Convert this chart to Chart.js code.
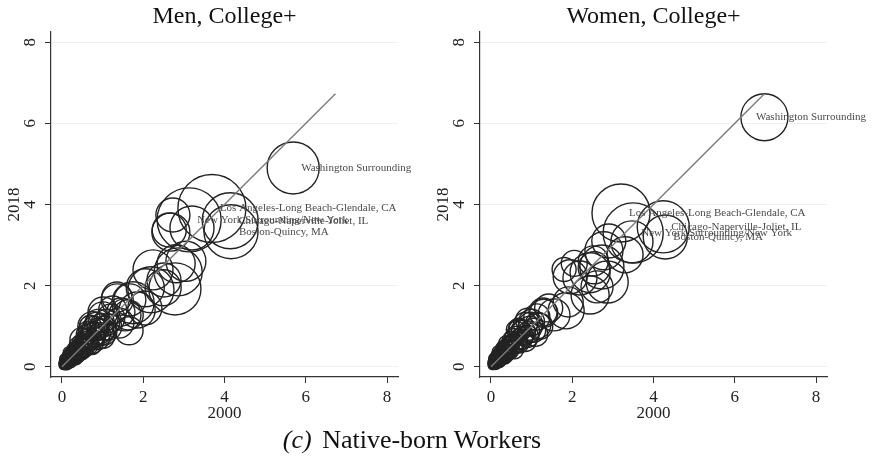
<!DOCTYPE html>
<html>
<head>
<meta charset="utf-8">
<script src="https://cdn.jsdelivr.net/npm/chart.js@4.4.1/dist/chart.umd.min.js"></script>
<style>
  body { margin: 0; width: 873px; height: 461px; background: #fff; position: relative; overflow: hidden; font-family: "Liberation Serif", serif; }
  #men { position: absolute; left: 4px; top: 0; }
  #women { position: absolute; left: 433px; top: 0; }
  #caption { position: absolute; left: 0; top: 426px; width: 824px; text-align: center; font-size: 26px; line-height: 28px; color: #111; }
  #caption i { margin-right: 4px; }
</style>
</head>
<body>
<canvas id="men" width="440" height="430"></canvas>
<canvas id="women" width="440" height="430"></canvas>
<div id="caption"><i>(c)</i> Native-born Workers</div>
<script>
// metro areas that get a text label (first five points of each panel)
const metroNames = ['Los Angeles-Long Beach-Glendale, CA', 'New York Surrounding/New York',
  'Chicago-Naperville-Joliet, IL', 'Boston-Quincy, MA', 'Washington Surrounding'];

const axisTicks = [0, 2, 4, 6, 8];

// men, college+ : share in 2000 (x), share in 2018 (y), employment weight (w)
const menX = [3.69, 3.13, 4.14, 4.16, 5.69,
  2.64, 2.68, 3.20, 2.73, 2.24, 2.86, 2.51, 2.49, 2.78, 2.19, 2.81, 3.05, 2.04, 1.75, 1.67,
  1.36, 1.35, 1.63, 1.55, 1.65, 1.40, 1.01, 1.01, 1.85, 2.05, 1.20, 0.76, 1.03, 0.49,
  1.10, 0.95, 0.80, 0.70, 0.90, 0.60, 0.85, 1.05, 0.75, 0.65, 0.55, 0.50, 0.45, 1.00, 0.70,
  0.78, 0.88, 0.60, 0.65, 0.55,
  0.40, 0.35, 0.30, 0.25, 0.20, 0.15, 0.10, 0.08, 0.05, 0.12, 0.18, 0.22, 0.28, 0.32, 0.38,
  0.42, 0.48, 0.06, 0.10, 0.14, 0.16, 0.24, 0.30, 0.20, 0.04, 0.08, 0.03, 0.12, 0.35, 0.26,
  0.44, 0.36, 0.18, 0.07, 0.02, 0.05, 0.15, 0.22, 0.28, 0.40,
  0.58, 0.62, 0.68, 0.72, 0.82, 0.92, 0.52, 0.46, 0.38, 0.33, 0.27, 0.50, 0.57, 0.43, 0.31,
  0.19, 0.09, 0.13, 0.62, 0.75, 0.98, 1.15, 0.88, 1.25, 1.45];
const menY = [3.90, 3.62, 3.60, 3.33, 4.90,
  3.37, 3.32, 3.42, 3.74, 2.39, 2.34, 2.14, 1.95, 1.92, 1.90, 2.54, 2.60, 1.45, 1.58, 1.65,
  1.65, 1.72, 1.28, 1.28, 0.89, 1.08, 1.23, 1.35, 1.40, 1.95, 1.20, 0.99, 0.86, 0.67,
  1.10, 0.85, 0.95, 0.75, 0.70, 0.80, 1.05, 0.95, 0.60, 0.55, 0.65, 0.50, 0.60, 0.75, 1.00,
  0.80, 0.92, 0.60, 0.70, 0.45,
  0.40, 0.45, 0.30, 0.35, 0.25, 0.20, 0.15, 0.10, 0.06, 0.08, 0.12, 0.18, 0.22, 0.26, 0.30,
  0.35, 0.40, 0.12, 0.05, 0.16, 0.10, 0.28, 0.38, 0.30, 0.03, 0.04, 0.07, 0.22, 0.20, 0.14,
  0.52, 0.55, 0.35, 0.20, 0.02, 0.15, 0.05, 0.10, 0.45, 0.25,
  0.70, 0.52, 0.62, 0.88, 0.72, 0.82, 0.58, 0.44, 0.48, 0.36, 0.30, 0.35, 0.62, 0.28, 0.18,
  0.22, 0.09, 0.12, 0.90, 0.50, 1.02, 0.98, 1.12, 1.40, 1.35];
const menW = [72.3, 64, 49, 45.6, 42.3,
  18.1, 22.6, 30.3, 18.1, 25, 36, 18.1, 20.3, 42.3, 33.1, 22.6, 25, 18.1, 27.6, 16,
  16, 14.1, 14.1, 16, 12.3, 14.1, 14.1, 14.1, 20.3, 22.6, 12.3, 14.1, 10.6, 9,
  10.6, 10.6, 9, 10.6, 7.6, 6.3, 9, 9, 7.6, 6.3, 5.1, 6.3, 4, 9, 7.6,
  9, 7.6, 7.6, 6.3, 5.1,
  5.1, 4, 5.1, 3.1, 4, 3.1, 2.3, 2.3, 1.6, 2.3, 2.3, 3.1, 3.1, 4, 4,
  4, 5.1, 1.6, 1.6, 2.3, 1.6, 2.3, 3.1, 2.3, 1, 1, 1, 1.6, 2.3, 1.6,
  4, 3.1, 2.3, 1.6, 0.6, 1, 1, 1.6, 2.3, 2.3,
  5.1, 4, 5.1, 6.3, 6.3, 7.6, 4, 4, 3.1, 3.1, 2.3, 3.1, 4, 2.3, 1.6,
  1.6, 1, 1, 5.1, 4, 9, 10.6, 9, 12.3, 12.3];

// women, college+
const womenX = [3.20, 3.50, 4.24, 4.29, 6.73,
  2.78, 3.47, 3.30, 2.52, 2.73, 2.54, 2.44, 2.19, 1.95, 2.86, 2.61, 2.44, 1.90, 1.85, 1.55,
  1.28, 1.13, 1.80, 2.05, 2.90,
  1.00, 0.95, 0.85, 0.80, 0.90, 0.70, 1.05, 0.75, 0.65, 0.60, 0.55, 0.50, 1.10, 0.68, 0.85,
  0.45, 0.58, 1.20,
  0.40, 0.35, 0.30, 0.25, 0.20, 0.15, 0.10, 0.08, 0.05, 0.12, 0.18, 0.22, 0.28, 0.32, 0.38,
  0.42, 0.48, 0.06, 0.10, 0.14, 0.16, 0.24, 0.30, 0.20, 0.04, 0.08, 0.03, 0.12, 0.35, 0.26,
  0.44, 0.36, 0.18, 0.07, 0.02, 0.05, 0.15, 0.22, 0.28, 0.40,
  0.56, 0.62, 0.66, 0.74, 0.80, 0.93, 0.50, 0.46, 0.37, 0.33, 0.27, 0.49, 0.55, 0.42, 0.30,
  0.19, 0.09, 0.13, 0.60, 0.72, 0.98, 1.15, 0.90, 1.30, 1.42];
const womenY = [3.79, 3.30, 3.45, 3.20, 6.15,
  2.86, 3.08, 2.76, 2.61, 2.46, 2.44, 2.32, 2.19, 2.22, 2.09, 1.97, 1.77, 1.60, 1.38, 1.28,
  1.35, 1.23, 2.40, 2.55, 3.10,
  1.10, 0.95, 1.05, 0.85, 0.75, 0.90, 0.90, 0.70, 0.60, 0.75, 0.55, 0.65, 0.80, 0.95, 0.65,
  0.50, 0.42, 1.00,
  0.42, 0.48, 0.32, 0.36, 0.27, 0.22, 0.16, 0.11, 0.06, 0.09, 0.13, 0.19, 0.24, 0.28, 0.33,
  0.37, 0.44, 0.13, 0.06, 0.17, 0.11, 0.30, 0.40, 0.32, 0.03, 0.05, 0.08, 0.24, 0.22, 0.15,
  0.56, 0.58, 0.37, 0.21, 0.02, 0.16, 0.06, 0.11, 0.48, 0.27,
  0.72, 0.55, 0.66, 0.90, 0.76, 0.86, 0.60, 0.47, 0.50, 0.38, 0.31, 0.37, 0.64, 0.30, 0.19,
  0.23, 0.10, 0.13, 0.92, 0.54, 1.05, 1.02, 1.15, 1.32, 1.45];
const womenW = [52.6, 56.3, 42.3, 30.3, 34.5,
  22.6, 27.6, 20.3, 14.1, 30.3, 16, 25, 18.1, 18.1, 27.6, 16, 22.6, 14.1, 20.3, 16,
  12.3, 10.6, 9, 10.6, 18.1,
  10.6, 9, 9, 9, 7.6, 7.6, 9, 7.6, 6.3, 6.3, 6.3, 5.1, 9, 6.3, 7.6,
  5.1, 5.1, 10.6,
  5.1, 4, 5.1, 3.1, 4, 3.1, 2.3, 2.3, 1.6, 2.3, 2.3, 3.1, 3.1, 4, 4,
  4, 5.1, 1.6, 1.6, 2.3, 1.6, 2.3, 3.1, 2.3, 1, 1, 1, 1.6, 2.3, 1.6,
  4, 3.1, 2.3, 1.6, 0.6, 1, 1, 1.6, 2.3, 2.3,
  5.1, 4, 5.1, 6.3, 6.3, 7.6, 4, 4, 3.1, 3.1, 2.3, 3.1, 4, 2.3, 1.6,
  1.6, 1, 1, 5.1, 4, 9, 10.6, 9, 12.3, 12.3];

// 45 degree line runs up to the largest 2000 value
const diagEnd = Math.max(...menX, ...womenX);

const serif = '"Liberation Serif", "Times New Roman", serif';
const ink = '#222';

// writes the metro names to the right of their bubbles,
// pulled back to the left when a name would run off the canvas
const metroLabels = {
  id: 'metroLabels',
  afterDatasetsDraw(chart) {
    const meta = chart.getDatasetMeta(1);
    const ctx = chart.ctx;
    ctx.save();
    ctx.font = '11px ' + serif;
    ctx.fillStyle = '#4a4a4a';
    ctx.textBaseline = 'middle';
    ctx.textAlign = 'left';
    metroNames.forEach((name, i) => {
      const pt = meta.data[i];
      const w = ctx.measureText(name).width;
      const x = Math.min(pt.x + 8, chart.width - 7 - w);
      ctx.fillText(name, x, pt.y);
    });
    ctx.restore();
  }
};

function makePanel(id, title, xs, ys, ws) {
  const points = xs.map((x, i) => ({ x: x, y: ys[i], r: 4 * Math.sqrt(ws[i]) }));
  return new Chart(document.getElementById(id), {
    type: 'bubble',
    data: {
      datasets: [{
        type: 'line',
        data: [{ x: 0, y: 0 }, { x: diagEnd, y: diagEnd }],
        borderColor: '#7a7a7a',
        borderWidth: 1.4,
        pointRadius: 0,
        order: 0
      }, {
        data: points,
        backgroundColor: 'rgba(0,0,0,0)',
        borderColor: '#232323',
        borderWidth: 1.4,
        order: 1,
        clip: false
      }]
    },
    options: {
      responsive: false,
      animation: false,
      events: [],
      // big bubbles must not push the plot area around
      layout: { autoPadding: false, padding: { left: 0, right: 46, top: 0, bottom: 0 } },
      plugins: {
        legend: { display: false },
        tooltip: { enabled: false },
        title: {
          display: true, text: title, fullSize: false, color: '#111',
          font: { family: serif, size: 24, weight: 'normal' },
          padding: { top: 2, bottom: 1.2 }
        }
      },
      scales: {
        x: {
          type: 'linear', min: -0.27, max: 8.27,
          afterBuildTicks: s => { s.ticks = axisTicks.map(v => ({ value: v })); },
          afterFit: s => { s.height = 53; },
          ticks: { color: ink, font: { family: serif, size: 17 }, padding: 4 },
          grid: { drawOnChartArea: false, tickLength: 6, tickColor: '#333' },
          border: { color: '#333', width: 1.2 },
          title: { display: true, text: '2000', color: ink, font: { family: serif, size: 17 }, padding: { top: 0, bottom: 6 } }
        },
        y: {
          type: 'linear', min: -0.25, max: 8.25,
          afterBuildTicks: s => { s.ticks = axisTicks.map(v => ({ value: v })); },
          afterFit: s => { s.width = 47; },
          ticks: { color: ink, font: { family: serif, size: 17 }, minRotation: 90, maxRotation: 90, crossAlign: 'center', padding: 10 },
          grid: { color: '#efefef', lineWidth: 1, tickLength: 6, tickColor: '#333' },
          border: { color: '#333', width: 1.2 },
          title: { display: true, text: '2018', color: ink, font: { family: serif, size: 17 }, padding: { top: 0, bottom: 0 } }
        }
      }
    },
    plugins: [metroLabels]
  });
}

makePanel('men', 'Men, College+', menX, menY, menW);
makePanel('women', 'Women, College+', womenX, womenY, womenW);
</script>
</body>
</html>
